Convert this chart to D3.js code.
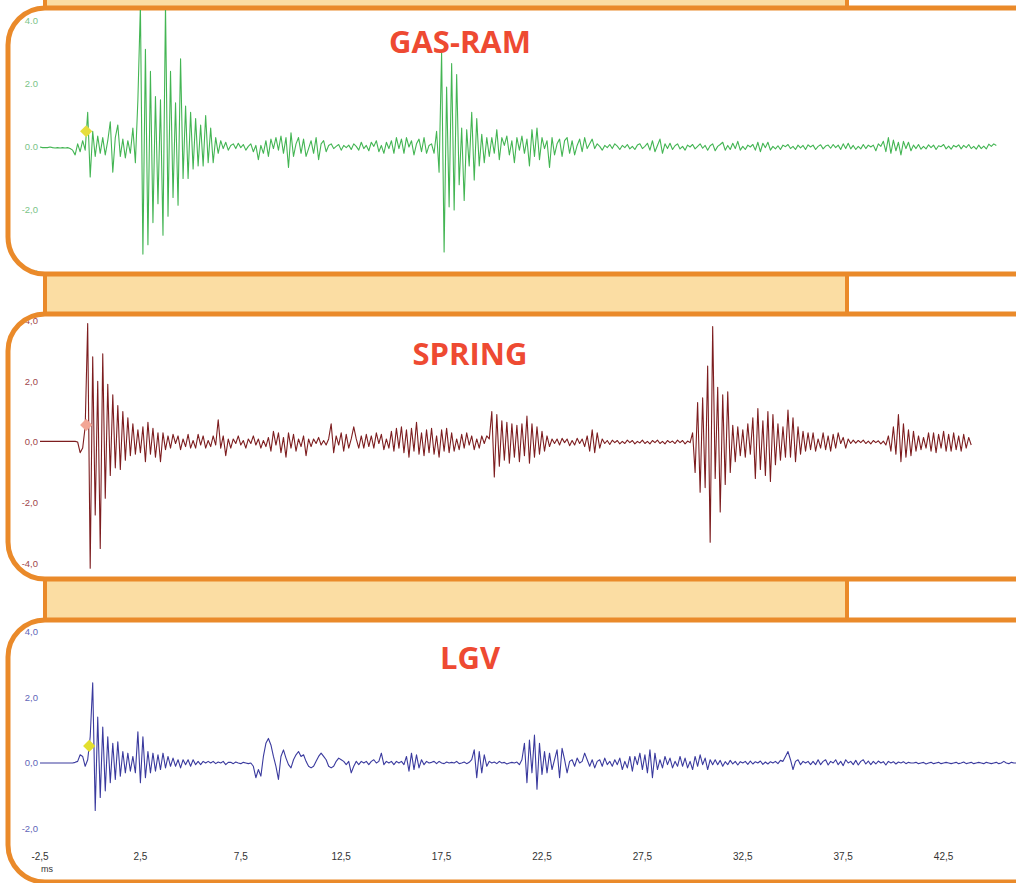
<!DOCTYPE html>
<html>
<head>
<meta charset="utf-8">
<script src="https://cdn.jsdelivr.net/npm/d3@7/dist/d3.min.js"></script>
<style>
  body { margin: 0; background: #fff; }
  svg { display: block; }
</style>
</head>
<body>
<svg id="chart" width="1016" height="883"></svg>
<script>
// sample spacing of the traces, in ms
const T0 = -2.5
const DT = 0.125

// GAS-RAM trace (one row = 1 ms, first row = -2.5..-2)
const gasRam = [
  0, -0.02, -0.02, -0.02,
  0, -0.02, -0.03, -0.02, -0.03, -0.02, -0.03, -0.02,
  -0.05, -0.1, -0.25, 0.1, -0.15, 0.2, -0.1, 1.1,
  -0.95, 0.5, -0.3, 0.35, -0.2, 0.3, -0.25, 0.2,
  0.8, -0.8, 0.3, 0.7, -0.3, 0.25, -0.35, 0.2,
  -0.2, 0.6, -0.5, 1.5, 4.5, -3.4, 3.1, -3.1,
  2.4, -2.4, 1.6, -1.8, 1.5, -2.8, 4.5, -2.2,
  2.4, -1.6, 1.4, -1.85, 2.8, -1.0, 1.3, -1.0,
  1.1, -0.7, 0.9, -0.6, 0.7, -0.6, 1.0, -0.5,
  0.6, -0.5, 0.3, -0.2, 0.2, -0.05, 0.15, -0.1,
  0.05, 0.1, -0.05, 0.12, -0.02, 0.08, -0.1, 0.02,
  0.1, -0.15, 0.05, -0.4, 0.05, -0.2, 0.2, -0.3,
  0.25, -0.05, 0.3, -0.1, 0.35, -0.2, 0.3, -0.65,
  0.45, -0.3, 0.1, 0.3, -0.2, 0.25, -0.3, -0.05,
  0.2, -0.2, 0.3, -0.4, 0.1, 0.2, -0.15, 0.05,
  0.1, -0.05, 0.02, 0.08, -0.1, 0.05, -0.02, 0.06,
  -0.08, 0.1, 0.02, -0.1, 0.15, -0.05, 0.05, -0.12,
  0.15, 0.02, 0.2, -0.15, 0.05, -0.2, 0.15, -0.05,
  0.2, -0.2, 0.3, -0.05, 0.25, -0.2, 0.3, 0,
  0.2, -0.25, 0.1, 0.25, -0.15, 0.3, -0.2, 0.05,
  0.1, -0.2, 0.5, -0.8, 3.0, -3.33, 1.9, -1.9,
  2.65, -2.0, 2.3, -1.2, 0.6, -1.7, 0.55, -0.6,
  1.1, -1.05, 0.9, -0.6, 0.4, -0.5, 0.3, -0.3,
  0.3, -0.2, 0.55, -0.4, 0.3, 0.05, 0.35, -0.25,
  0.2, -0.5, 0.3, -0.1, 0.35, -0.2, 0.25, -0.6,
  0.55, -0.3, 0.6, -0.4, 0.3, -0.05, 0.2, -0.65,
  0.3, -0.25, 0.1, 0.25, -0.3, 0.2, 0.3, -0.2,
  0.2, -0.25, 0.05, 0.25, -0.15, 0.3, -0.05, 0.1,
  0.25, -0.05, 0.1, 0.02, -0.1, 0.05, -0.02, 0.08,
  -0.05, 0.1, 0.03, -0.08, 0.05, -0.02, 0.08, -0.06,
  0.02, -0.08, 0.06, 0.1, -0.05, 0.02, 0.12, -0.1,
  0.2, -0.15, 0.05, 0.25, -0.2, 0.1, -0.05, 0.12,
  -0.08, 0.04, 0.1, -0.06, 0.02, -0.1, 0.06, 0,
  0.08, -0.06, 0.02, 0.1, -0.04, 0.05, -0.1, 0.04,
  0.1, -0.12, 0.02, 0.08, 0.15, -0.1, 0.05, -0.08,
  0.12, -0.05, 0.18, -0.1, 0.02, -0.08, 0.06, 0,
  0.08, -0.1, 0.15, -0.15, 0.12, -0.02, 0.15, -0.1,
  0.02, -0.06, 0.04, -0.08, 0.06, 0.01, 0.08, -0.05,
  0.02, -0.08, 0.06, -0.03, 0.05, -0.08, 0.07, 0,
  0.06, -0.08, 0.02, 0.07, -0.06, 0.03, 0.06, -0.04,
  0.08, -0.02, 0.06, -0.08, 0.1, -0.05, 0.12, -0.06,
  0.05, -0.08, 0.02, -0.06, 0.08, -0.05, 0.06, 0,
  0.06, -0.12, 0.1, 0.02, 0.18, -0.15, 0.3, -0.2,
  0.22, -0.12, 0.15, -0.25, 0.18, -0.05, 0.15, -0.12,
  0.06, -0.05, 0.08, -0.07, 0.02, -0.06, 0.07, -0.02,
  0.06, -0.08, 0.04, 0.01, 0.08, -0.06, 0.03, -0.07,
  0.05, 0, 0.07, -0.06, 0.05, -0.02, 0.08, -0.05,
  0.02, -0.07, 0.06, -0.05, 0.03, -0.06, 0.09, 0.02,
  0.1, 0.05
]

// SPRING trace
const spring = [
  0.02, 0.02, 0.02, 0.02,
  0.02, 0.02, 0.02, 0.02, 0.02, 0.02, 0.02, 0.02,
  0.02, 0.02, 0.02, 0, -0.35, -0.2, 0.5, 3.9,
  -4.15, 2.8, -2.4, 2.0, -3.5, 2.9, -1.85, 1.9,
  -1.1, 1.55, -0.85, 1.2, -0.9, 1.0, -0.6, 0.8,
  -0.45, 0.6, -0.4, 0.4, -0.35, 0.5, -0.65, 0.65,
  -0.4, 0.45, -0.5, 0.3, -0.65, 0.3, -0.25, 0.2,
  -0.2, 0.25, -0.05, 0.2, -0.25, 0.1, -0.15, 0.25,
  -0.2, 0.05, -0.2, 0.25, -0.1, 0.2, -0.2, 0.05,
  -0.15, 0.2, -0.1, 0.73, -0.2, 0.2, -0.45, 0.1,
  -0.2, 0.1, -0.05, 0.2, -0.1, 0.05, -0.2, 0.1,
  -0.05, 0.2, -0.1, 0.1, -0.2, 0.05, -0.15, 0.15,
  -0.3, 0.35, -0.1, 0.3, -0.35, 0.15, -0.5, 0.3,
  -0.2, 0.25, -0.3, 0.1, -0.15, 0.2, -0.45, 0.1,
  -0.15, 0.1, -0.05, 0.15, -0.1, 0.05, -0.1, 0.1,
  0.6, -0.35, 0.2, -0.1, 0.3, -0.3, 0.25, -0.2,
  0.1, 0.5, 0.1, -0.2, 0.2, -0.2, 0.25, -0.15,
  0.2, -0.2, 0.3, -0.05, 0.25, -0.25, 0.1, -0.2,
  0.35, -0.3, 0.45, -0.2, 0.5, -0.35, 0.4, -0.5,
  0.45, -0.3, 0.65, -0.4, 0.3, -0.45, 0.4, -0.35,
  0.45, -0.4, 0.2, -0.5, 0.4, -0.3, 0.45, -0.35,
  0.3, -0.3, 0.1, -0.25, 0.25, -0.2, 0.3, -0.1,
  0.2, -0.25, 0.1, -0.2, 0.2, -0.05, 0.2, 0.1,
  1.0, -1.15, 0.9, -0.8, 0.7, -0.6, 0.65, -0.7,
  0.6, -0.5, 0.55, -0.65, 0.6, -0.45, 0.85, -0.7,
  0.6, -0.5, 0.5, -0.4, 0.35, -0.3, 0.2, -0.15,
  0.1, -0.05, 0.1, -0.1, 0.12, -0.02, 0.1, -0.12,
  0.05, -0.1, 0.12, -0.05, 0.1, -0.15, 0.2, -0.3,
  0.4, -0.35, 0.3, -0.2, 0.1, -0.05, 0.05, -0.08,
  0.06, -0.02, 0.05, -0.06, 0.02, -0.05, 0.06, -0.02,
  0.05, -0.06, 0.02, -0.03, 0.06, -0.05, 0.02, -0.06,
  0.05, -0.02, 0.06, -0.05, 0.02, -0.06, 0.05, -0.02,
  0.03, -0.05, 0.06, -0.02, 0.05, -0.06, 0.03, -0.02,
  0.3, -1.0, 1.3, -1.65, 1.45, -1.5, 2.5, -3.3,
  3.8, -1.2, 1.8, -2.3, 1.55, -1.4, 1.65, -1.0,
  0.55, -0.65, 0.5, -0.45, 0.4, -0.5, 0.6, -0.4,
  0.8, -1.2, 1.1, -0.9, 0.7, -1.1, 1.0, -1.3,
  0.9, -0.75, 0.6, -0.6, 0.5, -0.5, 1.05, -0.5,
  0.8, -0.65, 0.5, -0.4, 0.35, -0.3, 0.3, -0.25,
  0.3, -0.3, 0.1, -0.2, 0.3, -0.25, 0.2, -0.3,
  0.25, -0.2, 0.3, -0.05, 0.15, -0.2, 0.1, -0.05,
  0.06, -0.04, 0.05, -0.02, 0.06, -0.05, 0.03, -0.06,
  0.05, -0.02, 0.04, -0.06, 0.03, -0.1, 0.2, -0.3,
  0.5, -0.4, 0.9, -0.65, 0.6, -0.5, 0.4, -0.45,
  0.35, -0.3, 0.2, -0.25, 0.15, -0.2, 0.3, -0.3,
  0.3, -0.35, 0.25, -0.2, 0.35, -0.3, 0.25, -0.3,
  0.3, -0.25, 0.2, -0.3, 0.25, -0.2, 0.15, -0.1
]

// LGV trace
const lgv = [
  0, 0, 0, 0,
  0, 0, 0, 0, 0, 0, 0, 0,
  0, 0, 0.02, 0.05, 0.25, 0.2, -0.1, 0.1,
  0.8, 2.45, -1.45, 1.4, -1.05, 1.1, -0.85, 0.8,
  -0.6, 0.6, -0.5, 0.65, -0.4, 0.35, -0.3, 0.3,
  -0.25, 0.2, -0.3, 0.95, -0.6, 0.8, -0.45, 0.35,
  -0.3, 0.3, -0.25, 0.25, -0.2, 0.3, -0.15, 0.2,
  -0.1, 0.15, -0.1, 0.1, -0.15, 0.1, -0.05, 0.1,
  -0.1, 0.1, -0.05, 0.05, -0.05, 0.05, 0, 0.05,
  0, 0.05, -0.02, 0.03, 0, 0.05, -0.05, 0.02,
  0.02, -0.02, 0.03, 0, -0.02, 0.02, 0, -0.02,
  0, -0.1, -0.45, -0.2, -0.4, 0.2, 0.6, 0.75,
  0.55, 0.2, -0.1, -0.5, 0.2, 0.4, 0.15, -0.05,
  -0.15, 0.1, 0.25, 0.35, 0.2, 0.25, 0.05, -0.1,
  -0.15, -0.1, 0.05, 0.2, 0.3, 0.2, 0.1, -0.1,
  -0.15, -0.1, 0.05, 0.15, 0.1, 0.05, -0.05, 0.05,
  -0.3, -0.1, 0.05, -0.05, 0.05, 0, 0.05, -0.05,
  0.05, 0.1, 0, 0.05, 0.3, -0.05, 0.05, 0,
  0.05, -0.05, 0.05, 0, 0.05, -0.05, 0.2, -0.25,
  0.3, -0.2, 0.25, -0.15, 0.1, -0.05, 0.05, 0,
  0.02, 0.05, -0.02, 0.05, 0, -0.02, 0.03, 0,
  0.02, 0, 0.05, -0.02, 0, 0.03, -0.02, 0.02,
  0.1, 0.4, -0.45, 0.35, -0.3, 0.25, -0.1, 0.05,
  0, 0.03, -0.02, 0.05, 0, 0.02, -0.03, 0,
  0.02, 0, 0.03, -0.05, 0.1, 0.6, -0.6, 0.7,
  -0.3, 0.85, -0.8, 0.6, -0.35, 0.35, -0.3, 0.3,
  -0.2, 0.1, 0.4, -0.45, 0.45, 0.1, -0.3, 0.05,
  0.1, -0.1, 0.15, 0, 0.05, 0.3, 0.1, -0.1,
  0.1, -0.15, 0.05, 0.1, -0.1, 0.15, -0.05, 0.05,
  -0.1, 0.1, -0.05, 0.15, -0.2, 0.05, -0.15, 0.2,
  -0.25, 0.2, -0.05, 0.3, -0.2, 0.25, -0.3, 0.4,
  -0.45, 0.3, -0.2, 0.1, -0.15, 0.2, -0.05, 0.15,
  -0.15, 0.05, -0.1, 0.2, -0.1, 0.15, -0.15, 0.05,
  -0.2, 0.2, -0.1, 0.25, -0.05, 0.15, -0.2, 0.1,
  -0.05, 0.1, -0.05, 0.08, -0.1, 0.04, -0.05, 0.08,
  -0.03, 0.05, -0.06, 0.04, 0, 0.05, -0.04, 0.06,
  -0.03, 0.04, 0, 0.06, -0.04, 0.03, -0.03, 0.04,
  0, 0.05, -0.02, 0.08, 0.05, 0.2, 0.35, 0.1,
  -0.2, 0.05, 0.1, -0.05, 0.05, 0, 0.05, -0.05,
  0.05, -0.05, 0.1, -0.05, 0.05, 0.1, -0.06, 0.05,
  0, 0.1, -0.05, 0.05, -0.08, 0.1, 0, 0.05,
  -0.05, 0.08, -0.06, 0.05, 0.1, -0.03, 0.06, -0.05,
  0.05, -0.03, 0.06, 0, 0.04, -0.06, 0.05, 0,
  0.04, -0.03, 0.03, 0, 0.04, -0.02, 0.02, 0,
  0, 0.02, -0.02, 0, 0.02, -0.03, 0, 0.02,
  -0.02, 0, 0.02, -0.02, 0, 0.02, 0, -0.02,
  0, 0.02, -0.02, 0, 0.03, -0.02, 0, 0.02,
  -0.02, 0, 0.02, 0, -0.02, 0.02, 0, -0.02,
  0, 0.02, -0.02, 0, 0.05, 0, -0.02, 0.02,
  0, 0
]

// trigger markers (ms, value)
const gasRamMarker = [-0.2, 0.5]
const springMarker = [-0.2, 0.56]
const lgvMarker = [-0.05, 0.52]

const titles = ["GAS-RAM", "SPRING", "LGV"]
const xTicks = [-2.5, 2.5, 7.5, 12.5, 17.5, 22.5, 27.5, 32.5, 37.5, 42.5]
const xTickLabels = ["-2,5", "2,5", "7,5", "12,5", "17,5", "22,5", "27,5", "32,5", "37,5", "42,5"]
const yTicksGas = [4, 2, 0, -2, -4]
const yLabelsGas = ["4.0", "2.0", "0.0", "-2,0", "-4"]
const yTicksSpring = [4, 2, 0, -2, -4]
const yLabelsSpring = ["4,0", "2,0", "0,0", "-2,0", "-4,0"]
const yTicksLgv = [4, 2, 0, -2]
const yLabelsLgv = ["4,0", "2,0", "0,0", "-2,0"]

const ORANGE = "#ea8a2a"
const BAND = "#fbdda3"

const svg = d3.select("#chart")

const x = d3.scaleLinear().domain([-2.5, 47.5]).range([40, 1044])

const panels = [
    { name: titles[0], data: gasRam, marker: gasRamMarker, markerColor: "#e6de3c",
      top: 8, bottom: 274, y0: 147, unit: 31.5, color: "#43b553", labelColor: "#7cc487",
      ticks: yTicksGas, labels: yLabelsGas, titleX: 460, titleY: 53 },
    { name: titles[1], data: spring, marker: springMarker, markerColor: "#f2a595",
      top: 314, bottom: 579, y0: 442, unit: 30.4, color: "#7d1d1f", labelColor: "#a0474b",
      ticks: yTicksSpring, labels: yLabelsSpring, titleX: 470, titleY: 365 },
    { name: titles[2], data: lgv, marker: lgvMarker, markerColor: "#e3df2e",
      top: 620, bottom: 882, y0: 763, unit: 32.75, color: "#3a3a9e", labelColor: "#6266b8",
      ticks: yTicksLgv, labels: yLabelsLgv, titleX: 470, titleY: 669 }
]

// light orange connector bands behind the panels
const bands = [[-10, 8], [274, 314], [579, 620]]
bands.forEach(b => {
    svg.append("rect")
        .attr("x", 45)
        .attr("y", b[0])
        .attr("width", 802)
        .attr("height", b[1] - b[0])
        .attr("fill", BAND)
        .attr("stroke", ORANGE)
        .attr("stroke-width", 4)
})

const defs = svg.append("defs")

panels.forEach((p, i) => {
    const y = d3.scaleLinear().domain([-4, 4]).range([p.y0 + 4 * p.unit, p.y0 - 4 * p.unit])

    defs.append("clipPath")
        .attr("id", "clip" + i)
        .append("rect")
        .attr("x", 10)
        .attr("y", p.top + 2)
        .attr("width", 1100)
        .attr("height", p.bottom - p.top - 4)
        .attr("rx", 36)

    svg.append("rect")
        .attr("x", 8)
        .attr("y", p.top)
        .attr("width", 1100)
        .attr("height", p.bottom - p.top)
        .attr("rx", 37)
        .attr("fill", "#fff")
        .attr("stroke", ORANGE)
        .attr("stroke-width", 5)

    const g = svg.append("g").attr("clip-path", `url(#clip${i})`)

    // y tick labels
    g.selectAll(".ylab")
        .data(p.ticks)
        .join("text")
        .attr("x", 38)
        .attr("y", d => y(d))
        .attr("dy", "0.35em")
        .attr("text-anchor", "end")
        .attr("font-family", "Liberation Sans, Arial, sans-serif")
        .attr("font-size", 9.5)
        .attr("fill", p.labelColor)
        .text((d, k) => p.labels[k])

    const line = d3.line()
        .x((d, k) => x(T0 + k * DT))
        .y(d => y(d))

    g.append("path")
        .datum(p.data)
        .attr("d", line)
        .attr("fill", "none")
        .attr("stroke", p.color)
        .attr("stroke-width", 1.1)
        .attr("stroke-linejoin", "round")

    g.append("path")
        .attr("d", d3.symbol(d3.symbolSquare, 75)())
        .attr("transform", `translate(${x(p.marker[0])},${y(p.marker[1])}) rotate(45)`)
        .attr("fill", p.markerColor)

    svg.append("text")
        .attr("x", p.titleX)
        .attr("y", p.titleY)
        .attr("text-anchor", "middle")
        .attr("font-family", "Open Sans, sans-serif")
        .attr("font-weight", "bold")
        .attr("font-size", 31)
        .attr("fill", "#ee4a32")
        .text(p.name)
})

// time axis under the last panel
const axis = svg.append("g")
axis.selectAll("text")
    .data(xTicks)
    .join("text")
    .attr("x", d => x(d))
    .attr("y", 860)
    .attr("text-anchor", "middle")
    .attr("font-family", "Liberation Sans, Arial, sans-serif")
    .attr("font-size", 10)
    .attr("fill", "#333")
    .text((d, k) => xTickLabels[k])

axis.append("text")
    .attr("x", 47)
    .attr("y", 872)
    .attr("text-anchor", "middle")
    .attr("font-family", "Liberation Sans, Arial, sans-serif")
    .attr("font-size", 9)
    .attr("fill", "#333")
    .text("ms")
</script>
</body>
</html>
